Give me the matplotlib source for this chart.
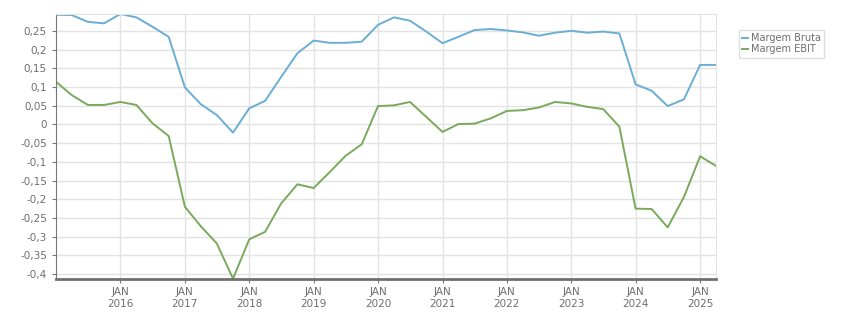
import matplotlib.pyplot as plt
import matplotlib.dates as mdates
import matplotlib.ticker as mticker
import pandas as pd

# quarterly values, Jan 2015 .. Apr 2025
quarters = pd.date_range("2015-01-01", periods=42, freq="QS")

margem_bruta = [0.293, 0.292, 0.274, 0.270, 0.295, 0.286, 0.261, 0.234,
                0.099, 0.054, 0.025, -0.022, 0.043, 0.063, 0.127, 0.190,
                0.224, 0.218, 0.218, 0.221, 0.266, 0.286, 0.277, 0.248,
                0.217, 0.234, 0.252, 0.255, 0.251, 0.246, 0.237, 0.245,
                0.250, 0.245, 0.248, 0.243, 0.107, 0.090, 0.049, 0.067,
                0.159, 0.159]

margem_ebit = [0.114, 0.078, 0.052, 0.052, 0.060, 0.052, 0.003, -0.031,
               -0.220, -0.272, -0.318, -0.412, -0.307, -0.287, -0.211, -0.160,
               -0.170, -0.128, -0.084, -0.053, 0.049, 0.051, 0.060, 0.020,
               -0.020, 0.001, 0.002, 0.016, 0.036, 0.038, 0.045, 0.060,
               0.056, 0.047, 0.041, -0.006, -0.225, -0.226, -0.275, -0.194,
               -0.085, -0.111]

yticks = [0.25, 0.2, 0.15, 0.1, 0.05, 0, -0.05, -0.1, -0.15, -0.2,
          -0.25, -0.3, -0.35, -0.4]
xtick_years = list(range(2016, 2026))

blue = "#6aaed6"
green = "#7aa95c"
txt = "#6e6e6e"

fig = plt.figure(figsize=(8.51, 3.13), dpi=100)
ax = fig.add_axes([56/851, 34/313, 660/851, 265/313])

ax.plot(quarters, margem_bruta, color=blue, lw=1.4, label="Margem Bruta")
ax.plot(quarters, margem_ebit, color=green, lw=1.4, label="Margem EBIT")

ax.set_xlim(quarters[0], quarters[-1])
ax.set_ylim(-0.413, 0.295)

ax.set_yticks(yticks)
ax.yaxis.set_major_formatter(mticker.FuncFormatter(
    lambda v, p: "0" if abs(v) < 1e-9 else ("%g" % v).replace(".", ",")))

ax.set_xticks([pd.Timestamp(year=y, month=1, day=1) for y in xtick_years])
ax.xaxis.set_major_formatter(mdates.DateFormatter("JAN\n%Y"))

ax.grid(True, color="#e3e3e3", lw=1)
ax.set_axisbelow(True)
ax.tick_params(axis="both", colors="#777777", labelcolor=txt, labelsize=7.5, length=3)
ax.tick_params(axis="x", pad=3)

for s in ["top", "right"]:
    ax.spines[s].set_color("#e3e3e3")
ax.spines["left"].set_color("#777777")
ax.spines["bottom"].set_color("#707070")
ax.spines["bottom"].set_linewidth(2)

leg = ax.legend(loc="upper left", bbox_to_anchor=(739/851, 1 - 30/313),
                bbox_transform=fig.transFigure, fontsize=7, frameon=True,
                fancybox=False, handlelength=0.6, handletextpad=0.25,
                borderpad=0.35, labelspacing=0.1, borderaxespad=0)
leg.get_frame().set_edgecolor("#d6d6d6")
leg.get_frame().set_linewidth(1)
for t in leg.get_texts():
    t.set_color(txt)

plt.savefig("out.png", dpi=100)
